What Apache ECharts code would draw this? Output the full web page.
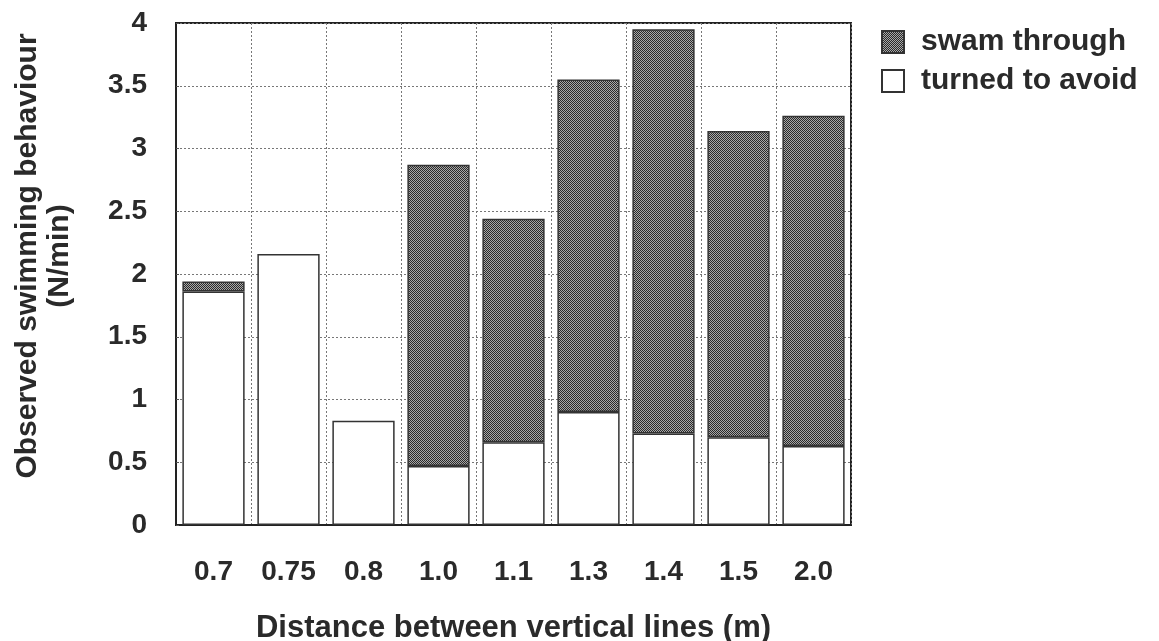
<!DOCTYPE html>
<html>
<head>
<meta charset="utf-8">
<script src="https://cdn.jsdelivr.net/npm/echarts@6/dist/echarts.min.js"></script>
<style>
html,body{margin:0;padding:0;background:#fff;}
#chart{width:1159px;height:641px;}
</style>
</head>
<body>
<div id="chart"></div>
<script>
const categories = ['0.7', '0.75', '0.8', '1.0', '1.1', '1.3', '1.4', '1.5', '2.0'];
const turnedToAvoid = [1.86, 2.16, 0.83, 0.47, 0.66, 0.90, 0.73, 0.70, 0.63];
const swamThrough = [0.08, null, null, 2.40, 1.78, 2.65, 3.22, 2.44, 2.63];
const seriesNames = ['swam through', 'turned to avoid'];
const xAxisTitle = 'Distance between vertical lines (m)';
const yAxisTitle = 'Observed swimming behaviour\n(N/min)';

// stipple pattern for "swam through"
const pc = document.createElement('canvas');
pc.width = 2; pc.height = 2;
const pctx = pc.getContext('2d');
pctx.fillStyle = '#a8a8a8'; pctx.fillRect(0, 0, 2, 2);
pctx.fillStyle = '#2a2a2a'; pctx.fillRect(0, 0, 1, 1); pctx.fillRect(1, 1, 1, 1);
const stipple = { image: pc, repeat: 'repeat' };

const FONT = '"Liberation Sans", Arial, Helvetica, sans-serif';
const chart = echarts.init(document.getElementById('chart'), null, { renderer: 'canvas' });
chart.setOption({
  animation: false,
  backgroundColor: '#fff',
  grid: { left: 176, right: 308, top: 23, bottom: 116, show: true, borderColor: '#222', borderWidth: 2, outerBoundsMode: 'none', containLabel: false },
  legend: {
    orient: 'vertical', left: 876, top: 22,
    itemWidth: 22, itemHeight: 22, itemGap: 9,
    data: seriesNames,
    icon: 'rect',
    textStyle: { fontFamily: FONT, fontWeight: 'bold', fontSize: 30, color: '#2a2a2a', padding: [0, 0, 0, 12] }
  },
  xAxis: {
    type: 'category', data: categories,
    name: xAxisTitle, nameLocation: 'middle', nameGap: 88,
    nameTextStyle: { fontFamily: FONT, fontWeight: 'bold', fontSize: 31, color: '#2a2a2a' },
    axisLine: { show: true, lineStyle: { color: '#222', width: 2 } },
    axisTick: { show: false },
    axisLabel: { fontFamily: FONT, fontWeight: 'bold', fontSize: 28, color: '#2a2a2a', margin: 33 },
    splitLine: { show: true, interval: 0, lineStyle: { color: '#777', type: [2, 2], width: 1 } }
  },
  yAxis: {
    type: 'value', min: 0, max: 4, interval: 0.5,
    name: yAxisTitle, nameLocation: 'middle', nameGap: 100, nameRotate: 90,
    nameTextStyle: { fontFamily: FONT, fontWeight: 'bold', fontSize: 30, lineHeight: 32, color: '#2a2a2a', padding: [0, 0, 0, 36] },
    axisLine: { show: true, lineStyle: { color: '#222', width: 2 } },
    axisTick: { show: true, inside: true, length: 3, lineStyle: { color: '#555' } },
    axisLabel: { fontFamily: FONT, fontWeight: 'bold', fontSize: 28, color: '#2a2a2a', margin: 29 },
    splitLine: { show: true, lineStyle: { color: '#777', type: [2, 2], width: 1 } }
  },
  series: [
    {
      name: 'turned to avoid', type: 'bar', stack: 'total', data: turnedToAvoid,
      barCategoryGap: '17%',
      itemStyle: { color: '#fff', borderColor: '#333', borderWidth: 1.5 }
    },
    {
      name: 'swam through', type: 'bar', stack: 'total', data: swamThrough,
      barCategoryGap: '17%',
      itemStyle: { color: stipple, borderColor: '#333', borderWidth: 1.5 }
    }
  ]
});
</script>
</body>
</html>
